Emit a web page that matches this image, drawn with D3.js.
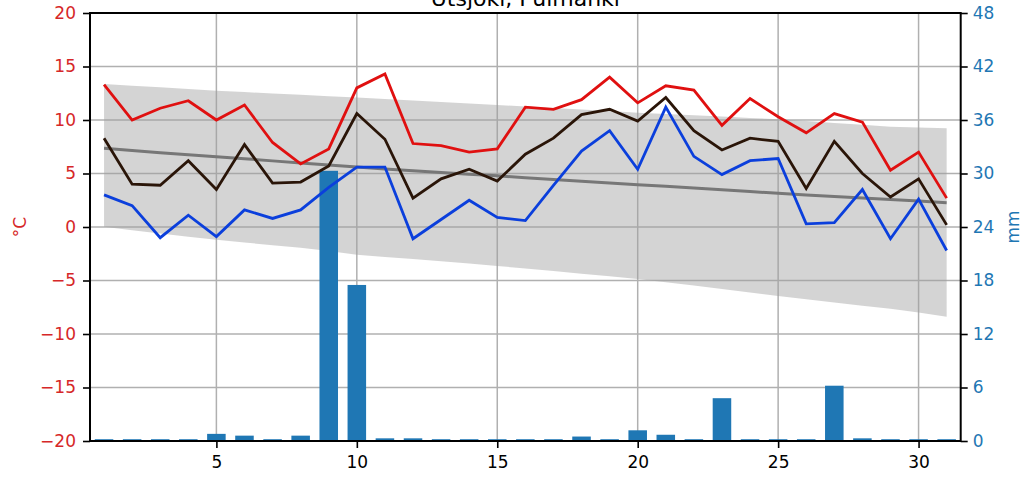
<!DOCTYPE html>
<html>
<head>
<meta charset="utf-8">
<script src="https://cdn.jsdelivr.net/npm/d3@7"></script>
<style>
  body { margin: 0; background: #fff; }
  svg { display: block; font-family: "DejaVu Sans", sans-serif; }
</style>
</head>
<body>
<svg id="chart" width="1034" height="484"></svg>
<script>
const titleText = "Utsjoki, Pulmanki";
const days = d3.range(1, 32);
const tMax = [13.3, 10.0, 11.1, 11.8, 10.0, 11.4, 7.9, 5.9, 7.3, 13.0, 14.3, 7.8, 7.6, 7.0, 7.3, 11.2, 11.0, 11.9, 14.0, 11.6, 13.2, 12.8, 9.5, 12.0, 10.3, 8.8, 10.6, 9.8, 5.3, 7.0, 2.7];
const tMean = [8.3, 4.0, 3.9, 6.2, 3.5, 7.7, 4.1, 4.2, 5.7, 10.6, 8.2, 2.7, 4.5, 5.4, 4.3, 6.8, 8.3, 10.5, 11.0, 9.9, 12.1, 9.0, 7.2, 8.3, 8.0, 3.6, 8.0, 5.0, 2.8, 4.5, 0.2];
const tMin = [3.0, 2.0, -1.0, 1.1, -0.9, 1.6, 0.8, 1.6, 3.7, 5.6, 5.6, -1.1, 0.7, 2.5, 0.9, 0.6, 3.9, 7.1, 9.0, 5.4, 11.2, 6.6, 4.9, 6.2, 6.4, 0.3, 0.4, 3.5, -1.1, 2.6, -2.2];
const normMean = [7.35, 7.15, 6.95, 6.76, 6.57, 6.38, 6.18, 5.98, 5.79, 5.6, 5.43, 5.26, 5.1, 4.94, 4.78, 4.61, 4.45, 4.28, 4.12, 3.95, 3.8, 3.64, 3.48, 3.32, 3.15, 3.0, 2.85, 2.7, 2.56, 2.42, 2.27];
const normHigh = [13.36, 13.2, 13.05, 12.9, 12.74, 12.61, 12.48, 12.35, 12.22, 12.1, 11.96, 11.82, 11.68, 11.54, 11.4, 11.26, 11.12, 10.97, 10.83, 10.68, 10.56, 10.44, 10.32, 10.19, 10.07, 9.9, 9.72, 9.55, 9.37, 9.3, 9.22];
const normLow = [0.03, -0.3, -0.6, -0.9, -1.2, -1.45, -1.7, -1.95, -2.25, -2.6, -2.8, -3.0, -3.2, -3.42, -3.64, -3.88, -4.12, -4.36, -4.6, -4.86, -5.16, -5.46, -5.8, -6.12, -6.45, -6.75, -7.05, -7.35, -7.65, -8.0, -8.38];
const precip = [0.2, 0.2, 0.2, 0.2, 0.8, 0.6, 0.2, 0.6, 30.3, 17.5, 0.3, 0.3, 0.2, 0.2, 0.2, 0.2, 0.2, 0.5, 0.2, 1.2, 0.7, 0.2, 4.8, 0.2, 0.2, 0.2, 6.2, 0.3, 0.2, 0.2, 0.2];
const xTicks = [5, 10, 15, 20, 25, 30];
const tTicks = [-20, -15, -10, -5, 0, 5, 10, 15, 20];
const pTicks = [0, 6, 12, 18, 24, 30, 36, 42, 48];

const L = 90, R = 960.7, T = 13, B = 441;
const svg = d3.select("#chart");
const x = d3.scaleLinear().domain([0.5, 31.5]).range([L, R]);
const yT = d3.scaleLinear().domain([-20, 20]).range([B, T]);
const yP = d3.scaleLinear().domain([0, 48]).range([B, T]);

// grid
const grid = svg.append("g");
grid.selectAll(".gx").data(xTicks).join("line")
  .attr("x1", d => x(d)).attr("x2", d => x(d)).attr("y1", T).attr("y2", B)
  .attr("stroke", "#b0b0b0").attr("stroke-width", 1.5);
grid.selectAll(".gy").data(tTicks).join("line")
  .attr("x1", L).attr("x2", R).attr("y1", d => yT(d)).attr("y2", d => yT(d))
  .attr("stroke", "#b0b0b0").attr("stroke-width", 1.5);

// normal band
const area = d3.area().x((d, i) => x(days[i])).y0((d, i) => yT(normLow[i])).y1((d, i) => yT(normHigh[i]));
svg.append("path").datum(days).attr("d", area)
  .attr("fill", "#a0a0a0").attr("fill-opacity", 0.45);

// bars
const bw = 0.66;
svg.append("g").selectAll("rect").data(precip).join("rect")
  .attr("x", (d, i) => x(days[i] - bw / 2))
  .attr("width", x(1 + bw) - x(1))
  .attr("y", d => yP(d))
  .attr("height", d => yP(0) - yP(d))
  .attr("fill", "#1f77b4");

// normal mean line
const lineOf = arr => d3.line().x((d, i) => x(days[i])).y((d, i) => yT(arr[i]));
svg.append("path").datum(normMean).attr("d", lineOf(normMean))
  .attr("fill", "none").attr("stroke", "#777777").attr("stroke-width", 3);

// temperature lines
[[tMax, "#e01010"], [tMean, "#2a1508"], [tMin, "#0b3fdc"]].forEach(([arr, c]) => {
  svg.append("path").datum(arr).attr("d", lineOf(arr))
    .attr("fill", "none").attr("stroke", c).attr("stroke-width", 2.8)
    .attr("stroke-linejoin", "miter");
});

// frame
svg.append("rect").attr("x", L).attr("y", T).attr("width", R - L).attr("height", B - T)
  .attr("fill", "none").attr("stroke", "#000").attr("stroke-width", 2);

// axes
const fs = "17px";
const axL = svg.append("g").attr("transform", `translate(${L},0)`)
  .call(d3.axisLeft(yT).tickValues(tTicks).tickSize(7).tickPadding(7));
axL.select(".domain").remove();
axL.selectAll("line").attr("stroke", "#000").attr("stroke-width", 1.6);
axL.selectAll("text").attr("fill", "#d62728").style("font-size", fs).style("font-family", "DejaVu Sans");

const axR = svg.append("g").attr("transform", `translate(${R},0)`)
  .call(d3.axisRight(yP).tickValues(pTicks).tickSize(7).tickPadding(5));
axR.select(".domain").remove();
axR.selectAll("line").attr("stroke", "#000").attr("stroke-width", 1.6);
axR.selectAll("text").attr("fill", "#1f77b4").style("font-size", fs).style("font-family", "DejaVu Sans");

const axB = svg.append("g").attr("transform", `translate(0,${B})`)
  .call(d3.axisBottom(x).tickValues(xTicks).tickSize(7).tickPadding(8));
axB.select(".domain").remove();
axB.selectAll("line").attr("stroke", "#000").attr("stroke-width", 1.6);
axB.selectAll("text").attr("fill", "#000").style("font-size", fs).style("font-family", "DejaVu Sans");

// labels
svg.append("text").attr("transform", `translate(26,${(T + B) / 2}) rotate(-90)`)
  .attr("text-anchor", "middle").attr("fill", "#d62728").style("font-size", fs).text("°C");
svg.append("text").attr("transform", `translate(1019,${(T + B) / 2}) rotate(-90)`)
  .attr("text-anchor", "middle").attr("fill", "#1f77b4").style("font-size", fs).text("mm");

// title
svg.append("text").attr("x", (L + R) / 2).attr("y", 6).attr("text-anchor", "middle")
  .attr("fill", "#000").style("font-size", "22px").text(titleText);
</script>
</body>
</html>
